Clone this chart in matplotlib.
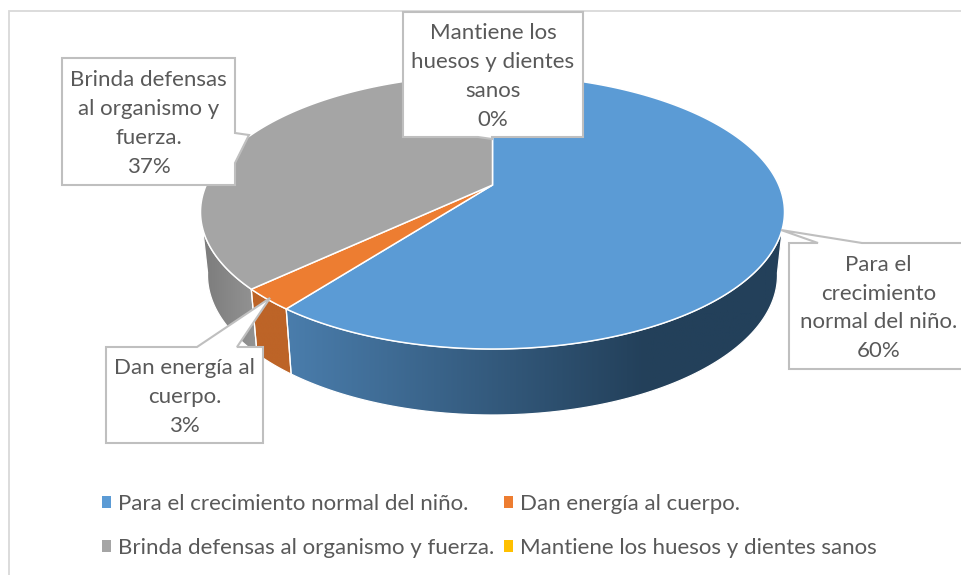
import matplotlib
matplotlib.use("Agg")
import matplotlib.pyplot as plt
import numpy as np
from matplotlib.colors import LinearSegmentedColormap
from matplotlib.patches import Patch, Polygon

categories = ['Para el crecimiento normal del niño.', 'Dan energía al cuerpo.',
              'Brinda defensas al organismo y fuerza.', 'Mantiene los huesos y dientes sanos']
values = [60.4, 2.6, 37.0, 0.0]
percent_labels = ['60%', '3%', '37%', '0%']
box_titles = ['Para el\ncrecimiento\nnormal del niño.', 'Dan energía al\ncuerpo.',
              'Brinda defensas\nal organismo y\nfuerza.', 'Mantiene los\nhuesos y dientes\nsanos']
colors = ['#5b9bd5', '#ed7d31', '#a5a5a5', '#ffc000']

plt.rcParams['font.family'] = ['Lato', 'DejaVu Sans']
TEXT = '#595959'
LINE = '#bfbfbf'

# pie geometry in picture pixels
CX, CY, RX, RY = 492.5, 212, 292, 137
BY, BRX, BRY = 275, 285, 140
PERSP = 0.197


def rim(frac):
    # position on the unit circle after the perspective shift, frac from 12 o'clock clockwise
    a = 2 * np.pi * np.asarray(frac)
    u, v = np.sin(a), np.cos(a)
    d = 1 + PERSP * v
    return u * np.sqrt(1 - PERSP ** 2) / d, (v + PERSP) / d


def top(frac):
    x, y = rim(frac)
    return np.column_stack([CX + RX * x, CY - RY * y])


def bottom(frac):
    x, y = rim(frac)
    return np.column_stack([CX + BRX * x, BY - BRY * y])


fig = plt.figure(figsize=(9.62, 5.75), dpi=100)
ax = fig.add_axes([0, 0, 1, 1])
ax.axis('off')

# chart frame
ax.add_patch(plt.Rectangle((9, 11), 980, 600, fc='white', ec='#d9d9d9', lw=1.3))

edges = np.cumsum([0] + values) / sum(values)
side_maps = {
    0: LinearSegmentedColormap.from_list('b', [(0, '#4a7dac'), (0.72, '#23405a'), (1, '#23405a')]),
    1: LinearSegmentedColormap.from_list('o', ['#bd6427', '#bd6427']),
    2: LinearSegmentedColormap.from_list('g', ['#7b7b7b', '#949494']),
}

# sides first, only the front half of the rim shows
for i in range(3):
    t = np.linspace(edges[i], edges[i + 1], 200)
    t = t[rim(t)[1] <= 0.02]
    poly = np.vstack([top(t), bottom(t)[::-1]])
    patch = Polygon(poly, closed=True, fc='none', ec='none')
    ax.add_patch(patch)
    x0, x1 = poly[:, 0].min(), poly[:, 0].max()
    y0, y1 = poly[:, 1].min(), poly[:, 1].max()
    img = ax.imshow(np.linspace(0, 1, 256)[None, :], cmap=side_maps[i], extent=[x0, x1, y1, y0],
                    aspect='auto', zorder=2)
    img.set_clip_path(patch)
    ax.add_patch(Polygon(poly, closed=True, fc='none', ec='white', lw=0.9, zorder=3))

# top faces
apex = [CX, CY - RY * PERSP]
for i in range(3):
    t = np.linspace(edges[i], edges[i + 1], 300)
    ax.add_patch(Polygon(np.vstack([apex, top(t)]), closed=True, fc=colors[i], ec='white', lw=1.1, zorder=4))

# data label boxes: left, top, right, bottom, then the callout points
boxes = [
    (789, 243, 968, 369, [(818, 243), (781, 230), (862, 243)]),
    (106, 347, 263, 443, [(197, 347), (270, 298), (237, 347)]),
    (62, 58, 235, 185, [(235, 133), (249, 135), (235, 163)]),
    (403, 12, 583, 137, [(478, 137), (492, 139), (492, 137)]),
]
for i, (l, t_, r, b, call) in enumerate(boxes):
    # splice the callout into the side it sits on
    if call[0][1] == t_ and call[2][1] == t_:
        outline = [(l, t_)] + call + [(r, t_), (r, b), (l, b)]
    elif call[0][1] == b:
        outline = [(l, t_), (r, t_), (r, b)] + call[::-1] + [(l, b)]
    else:
        outline = [(l, t_), (r, t_)] + call + [(r, b), (l, b)]
    ax.add_patch(Polygon(outline, closed=True, fc='white', ec=LINE, lw=1.5, zorder=6))
    ax.text((l + r) / 2, (t_ + b) / 2 + 2, box_titles[i] + '\n' + percent_labels[i], ha='center', va='center',
            fontsize=16, color=TEXT, linespacing=1.55, zorder=7)

order = [0, 2, 1, 3]
handles = [Patch(fc=colors[i], ec='none', label=categories[i]) for i in order]
ax.legend(handles=handles, ncols=2, loc='upper left', bbox_to_anchor=(102 / 962, 1 - 494 / 575), frameon=False,
          fontsize=16, labelcolor=TEXT, handlelength=0.4, handleheight=0.4, handletextpad=0.33,
          columnspacing=0.42, labelspacing=1.08, borderpad=0, borderaxespad=0)

ax.set_xlim(0, 962)
ax.set_ylim(575, 0)
fig.savefig('out.png', dpi=100)
